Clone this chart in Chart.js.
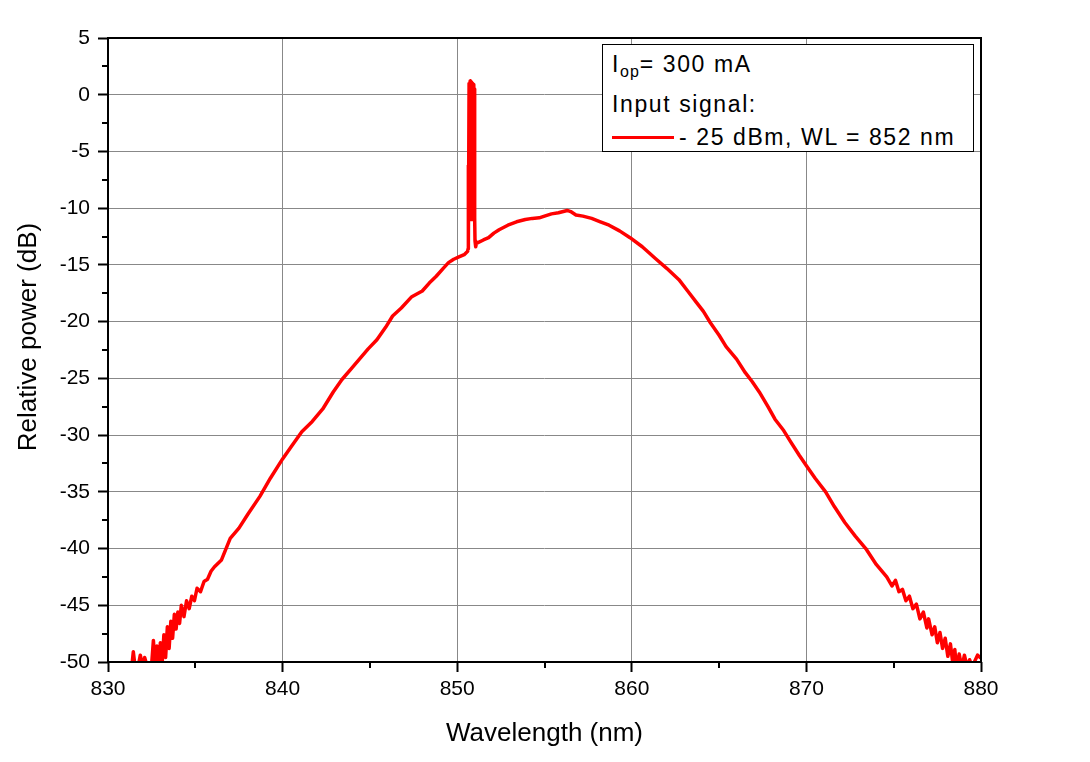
<!DOCTYPE html>
<html>
<head>
<meta charset="utf-8">
<script src="https://cdn.jsdelivr.net/npm/chart.js@4/dist/chart.umd.min.js"></script>
<style>
  html, body { margin: 0; padding: 0; background: #fff; }
  #wrap { position: relative; width: 1090px; height: 762px; }
  #legend {
    position: absolute; left: 602px; top: 44px; width: 370px; height: 106px;
    border: 1.5px solid #000; background: #fff;
    font-family: "Liberation Sans", Arial, sans-serif; font-size: 23px; letter-spacing: 1.6px; color: #000;
  }
  #legend .ln { position: absolute; left: 9px; line-height: 23px; white-space: nowrap; }
  #legend sub { font-size: 16px; vertical-align: -5px; line-height: 0; letter-spacing: 1px; }
  #legend .swatch { display: inline-block; width: 62px; height: 3.5px; background: #ff0000; vertical-align: 6px; margin-right: 5px; }
</style>
</head>
<body>
<div id="wrap">
  <canvas id="chartCanvas" width="1090" height="762"></canvas>
  <div id="legend">
    <div class="ln" style="top:8px">I<sub>op</sub>= 300 mA</div>
    <div class="ln" style="top:48px">Input signal:</div>
    <div class="ln" style="top:81px"><span class="swatch"></span>- 25 dBm, WL = 852 nm</div>
  </div>
</div>
<script>
// ---------------- 資料 ----------------
const wavelength = [
  831.35, 831.45, 831.55, 831.75, 831.85, 832.0, 832.1, 832.3, 832.5, 832.6, 832.7, 832.8, 832.9, 833.0, 833.1,
  833.2, 833.3, 833.4, 833.5, 833.6, 833.7, 833.8, 833.9, 834.0, 834.1, 834.2, 834.35, 834.5, 834.65, 834.8,
  834.95, 835.1, 835.3, 835.5, 835.7, 835.9, 836.1,
  836.5, 837.0, 837.5, 838.0, 838.7, 839.3, 840.0, 840.5, 841.1, 841.7, 842.3, 842.9, 843.4, 843.9, 844.4,
  844.9, 845.4, 845.9, 846.3, 846.8, 847.4, 848.0, 848.4, 848.8, 849.2, 849.5, 849.8, 850.1, 850.4, 850.6,
  850.62, 850.63, 850.65, 850.68, 850.71, 850.74, 850.77, 850.8, 850.83, 850.86, 850.89, 850.92, 850.95, 850.97,
  851.0, 851.02, 851.06,
  851.1, 851.5, 851.8, 852.1, 852.4, 852.9, 853.4, 853.9, 854.3, 854.7, 855.0, 855.4, 855.8, 856.3, 856.5,
  856.8, 857.2, 857.7, 858.2, 858.7, 859.3, 859.9, 860.6, 861.4, 862.0, 862.7, 863.2, 863.7, 864.1, 864.5,
  865.0, 865.4, 866.0, 866.5, 866.9, 867.3, 867.8, 868.2, 868.7, 869.1, 869.6, 870.0, 870.5, 871.1, 871.6,
  872.2, 872.8, 873.4, 874.0, 874.6,
  874.9, 875.1, 875.3, 875.5, 875.7, 875.9, 876.1, 876.3, 876.5, 876.7, 876.9, 877.0, 877.2, 877.35, 877.5,
  877.65, 877.8, 877.95, 878.1, 878.25, 878.4, 878.5, 878.6, 878.75, 878.9, 879.05, 879.2, 879.35, 879.5,
  879.65, 879.8, 879.95
];
const power = [
  -50.6, -49.1, -50.4, -50.2, -49.4, -50.5, -49.6, -50.7, -50.2, -48.1, -50.3, -48.6, -50.5, -48.3, -50.2,
  -47.6, -49.6, -46.9, -48.8, -46.4, -47.9, -45.8, -47.1, -45.6, -46.6, -45.0, -46.0, -44.6, -45.3, -44.2,
  -44.6, -43.5, -43.8, -42.9, -42.7, -42.0, -41.6,
  -41.0, -39.1, -38.2, -37.0, -35.4, -33.8, -32.1, -31.0, -29.7, -28.8, -27.7, -26.2, -25.1, -24.2, -23.3,
  -22.4, -21.6, -20.5, -19.5, -18.8, -17.8, -17.3, -16.6, -16.0, -15.3, -14.8, -14.5, -14.3, -14.1, -13.8,
  -13.6, -6.2, -13.0, 1.0, -11.0, 1.2, -11.0, 1.1, -11.0, 1.0, -11.0, 0.9, -10.8, 0.5,
  -10.8, -12.9, -13.4,
  -13.1, -12.8, -12.6, -12.2, -11.9, -11.5, -11.2, -11.0, -10.9, -10.85, -10.7, -10.5, -10.4, -10.2, -10.3,
  -10.6, -10.7, -10.9, -11.2, -11.5, -12.0, -12.6, -13.4, -14.5, -15.3, -16.3, -17.3, -18.3, -19.1, -20.1,
  -21.2, -22.2, -23.3, -24.5, -25.3, -26.2, -27.5, -28.6, -29.6, -30.6, -31.8, -32.7, -33.8, -35.0, -36.3,
  -37.7, -38.9, -40.0, -41.4, -42.5,
  -43.3, -42.8, -43.8, -43.6, -44.6, -44.2, -45.3, -44.9, -46.2, -45.6, -47.0, -46.2, -47.6, -46.9, -48.3,
  -47.4, -48.8, -47.9, -49.5, -48.4, -50.3, -48.9, -50.6, -49.3, -50.5, -49.4, -50.4, -49.8, -50.5,
  -49.9, -49.4, -49.6
];

// 軸範圍與刻度
const xRange = [830, 880];
const yRange = [-50, 5];
const xStep = 10;
const yStep = 5;
const xMinor = [835, 845, 855, 865, 875];
const yMinor = [2.5, -2.5, -7.5, -12.5, -17.5, -22.5, -27.5, -32.5, -37.5, -42.5, -47.5];

const points = wavelength.map((w, i) => ({ x: w, y: power[i] }));

// ---------------- 外框與次刻度 ----------------
const framePlugin = {
  id: 'frame',
  afterDatasetsDraw(chart) {
    const { ctx, chartArea: a, scales: { x, y } } = chart;
    ctx.save();
    ctx.strokeStyle = '#000';
    ctx.lineWidth = 2;
    ctx.strokeRect(a.left, a.top, a.right - a.left, a.bottom - a.top);
    ctx.beginPath();
    xMinor.forEach(v => {
      const px = Math.round(x.getPixelForValue(v));
      ctx.moveTo(px, a.bottom);
      ctx.lineTo(px, a.bottom + 6);
    });
    yMinor.forEach(v => {
      const py = Math.round(y.getPixelForValue(v));
      ctx.moveTo(a.left, py);
      ctx.lineTo(a.left - 6, py);
    });
    ctx.stroke();
    ctx.restore();
  }
};

const font = 'Liberation Sans, Arial, sans-serif';

// ---------------- Chart.js ----------------
const ctx = document.getElementById('chartCanvas').getContext('2d');
const chart = new Chart(ctx, {
  type: 'line',
  data: {
    datasets: [{
      data: points,
      borderColor: '#ff0000',
      borderWidth: 3.5,
      borderJoinStyle: 'round',
      borderCapStyle: 'round',
      pointRadius: 0,
      tension: 0,
      fill: false
    }]
  },
  options: {
    responsive: false,
    devicePixelRatio: 1,
    animation: false,
    layout: { padding: { left: 0, top: 38, right: 109, bottom: 0 } },
    plugins: { legend: { display: false }, tooltip: { enabled: false } },
    scales: {
      x: {
        type: 'linear',
        min: xRange[0], max: xRange[1],
        ticks: { stepSize: xStep, color: '#000', font: { family: font, size: 21 }, padding: 5, maxRotation: 0 },
        grid: { color: '#888', lineWidth: 1, tickColor: '#000', tickWidth: 2, tickLength: 10 },
        border: { display: false },
        title: { display: true, text: 'Wavelength (nm)', color: '#000', font: { family: font, size: 26 }, padding: { top: 0, bottom: 13 } },
        afterFit(scale) { scale.height = 100; }
      },
      y: {
        min: yRange[0], max: yRange[1],
        ticks: { stepSize: yStep, color: '#000', font: { family: font, size: 21 }, padding: 8 },
        grid: { color: '#888', lineWidth: 1, tickColor: '#000', tickWidth: 2, tickLength: 10 },
        border: { display: false },
        title: { display: true, text: '\u2002\u2002Relative power (dB)', color: '#000', font: { family: font, size: 26 }, padding: { top: 13, bottom: 0 } },
        afterFit(scale) { scale.width = 108; }
      }
    }
  },
  plugins: [framePlugin]
});
</script>
</body>
</html>
